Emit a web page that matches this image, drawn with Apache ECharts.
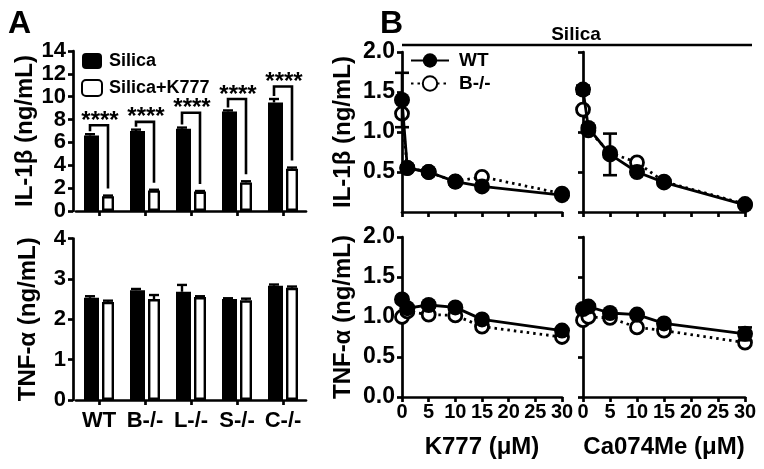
<!DOCTYPE html>
<html>
<head>
<meta charset="utf-8">
<script src="https://cdn.jsdelivr.net/npm/echarts@6/dist/echarts.min.js"></script>
<style>
html,body{margin:0;padding:0;background:#fff;}
#chart{width:764px;height:469px;}
</style>
</head>
<body>
<div id="chart"></div>
<script>
// ---------- DATA ----------
const categories = ['WT', 'B-/-', 'L-/-', 'S-/-', 'C-/-'];
const il1bSilica = [6.6, 7.0, 7.2, 8.7, 9.5];
const il1bSilicaErr = [0.12, 0.12, 0.1, 0.1, 0.3];
const il1bK777 = [1.3, 1.8, 1.7, 2.5, 3.7];
const il1bK777Err = [0.05, 0.06, 0.05, 0.1, 0.1];
const sigBracketTop = [7.5, 7.8, 8.6, 9.8, 10.9];
const sigLabels = ['****', '****', '****', '****', '****'];
const tnfSilica = [2.53, 2.72, 2.68, 2.5, 2.83];
const tnfSilicaErr = [0.04, 0.03, 0.17, 0.02, 0.03];
const tnfK777 = [2.43, 2.5, 2.55, 2.47, 2.78];
const tnfK777Err = [0.03, 0.1, 0.02, 0.04, 0.03];

const doses = [0, 1, 5, 10, 15, 30];
const k777IL1bWT = [1.4, 0.55, 0.5, 0.38, 0.32, 0.21];
const k777IL1bWTErr = [0.34, 0.03, 0.03, 0.03, 0.03, 0.03];
const k777IL1bB = [1.23, 0.55, 0.5, 0.38, 0.44, 0.23];
const ca074IL1bWT = [1.53, 1.05, 0.72, 0.5, 0.37, 0.09];
const ca074IL1bWTErr = [0.05, 0.03, 0.26, 0.03, 0.03, 0.03];
const ca074IL1bB = [1.28, 1.02, 0.74, 0.62, 0.38, 0.1];
const k777TNFWT = [1.22, 1.11, 1.15, 1.12, 0.97, 0.83];
const k777TNFWTErr = [0.03, 0.03, 0.03, 0.03, 0.03, 0.03];
const k777TNFB = [1.0, 1.07, 1.03, 1.02, 0.88, 0.75];
const ca074TNFWT = [1.1, 1.13, 1.05, 1.03, 0.92, 0.79];
const ca074TNFWTErr = [0.03, 0.03, 0.03, 0.03, 0.03, 0.08];
const ca074TNFB = [0.96, 1.0, 0.99, 0.87, 0.83, 0.68];

// ---------- STYLE ----------
const FONT = '"Liberation Sans", Arial, Helvetica, sans-serif';
const BLACK = '#000';
const LW = 2.7;
const BAR_W = 15;
const BAR_OFF = 9;

function axisCommon() {
  return {
    axisLine: { show: true, onZero: false, lineStyle: { color: BLACK, width: LW } },
    axisTick: { show: true, length: 5, lineStyle: { color: BLACK, width: LW } },
    splitLine: { show: false },
    axisLabel: { color: BLACK, fontFamily: FONT, fontWeight: 'bold', fontSize: 22, margin: 7 },
    nameTextStyle: { color: BLACK, fontFamily: FONT, fontWeight: 'bold', fontSize: 24 }
  };
}

const grids = [
  { left: 76, top: 51, width: 230, height: 160 },     // A top
  { left: 76, top: 238.5, width: 230, height: 161.5 },// A bottom
  { left: 402, top: 52, width: 160, height: 160 },    // B top left
  { left: 583, top: 52, width: 162, height: 160 },    // B top right
  { left: 402, top: 237, width: 160, height: 160 },   // B bottom left
  { left: 583, top: 237, width: 162, height: 160 }    // B bottom right
];

const xAxes = [];
const yAxes = [];
// A top
xAxes.push(Object.assign(axisCommon(), {
  gridIndex: 0, type: 'category', data: categories,
  axisTick: { show: true, alignWithLabel: true, length: 5, lineStyle: { color: BLACK, width: LW } },
  axisLabel: { show: false }
}));
yAxes.push(Object.assign(axisCommon(), {
  gridIndex: 0, type: 'value', min: 0, max: 14, interval: 2, offset: 3,
  name: 'IL-1\u03b2 (ng/mL)', nameLocation: 'middle', nameRotate: 90, nameGap: 33
}));
// A bottom
xAxes.push(Object.assign(axisCommon(), {
  gridIndex: 1, type: 'category', data: categories,
  axisTick: { show: true, alignWithLabel: true, length: 5, lineStyle: { color: BLACK, width: LW } },
  axisLabel: { interval: 0, color: BLACK, fontFamily: FONT, fontWeight: 'bold', fontSize: 22, margin: 10 }
}));
yAxes.push(Object.assign(axisCommon(), {
  gridIndex: 1, type: 'value', min: 0, max: 4, interval: 1, offset: 3,
  name: 'TNF-\u03b1 (ng/mL)', nameLocation: 'middle', nameRotate: 90, nameGap: 33
}));
// B panels
const fmt1 = v => v.toFixed(1);
for (let g = 2; g < 6; g++) {
  const bottomRow = g >= 4;
  const leftCol = (g === 2 || g === 4);
  const xa = Object.assign(axisCommon(), {
    gridIndex: g, type: 'value', min: 0, max: 30, interval: 5
  });
  xa.axisLabel = { show: bottomRow, color: BLACK, fontFamily: FONT, fontWeight: 'bold', fontSize: 20, margin: 5 };
  if (bottomRow) {
    xa.name = leftCol ? 'K777 (\u03bcM)' : 'Ca074Me (\u03bcM)';
    xa.nameLocation = 'middle';
    xa.nameGap = 38;
  }
  xAxes.push(xa);
  const ya = Object.assign(axisCommon(), {
    gridIndex: g, type: 'value', min: 0, max: 2, interval: 0.5
  });
  ya.axisLabel = { show: leftCol, showMinLabel: bottomRow, formatter: fmt1, color: BLACK, fontFamily: FONT, fontWeight: 'bold', fontSize: 23, margin: 7 };
  if (leftCol) {
    ya.name = bottomRow ? 'TNF-\u03b1 (ng/mL)' : 'IL-1\u03b2 (ng/mL)';
    ya.nameLocation = 'middle';
    ya.nameRotate = 90;
    ya.nameGap = 47;
  }
  yAxes.push(ya);
}

// ---------- SERIES ----------
const series = [];

function barErrSeries(gridIdx, vals, errs, off) {
  return {
    type: 'custom', xAxisIndex: gridIdx, yAxisIndex: gridIdx, z: 5, silent: true,
    data: vals.map((v, i) => [i, v, errs[i]]),
    renderItem: function (params, api) {
      const i = api.value(0), v = api.value(1), e = api.value(2);
      const p0 = api.coord([i, v]);
      const p1 = api.coord([i, v + e]);
      const x = p0[0] + off;
      return {
        type: 'group',
        children: [
          { type: 'line', shape: { x1: x, y1: p0[1], x2: x, y2: p1[1] }, style: { stroke: BLACK, lineWidth: 2.4 } },
          { type: 'line', shape: { x1: x - 5, y1: p1[1], x2: x + 5, y2: p1[1] }, style: { stroke: BLACK, lineWidth: 2.4 } }
        ]
      };
    }
  };
}

function barPair(gridIdx, a, b) {
  series.push({
    name: 'Silica', type: 'bar', xAxisIndex: gridIdx, yAxisIndex: gridIdx,
    data: a, barWidth: BAR_W, barGap: '20%',
    itemStyle: { color: BLACK, borderColor: BLACK, borderWidth: 0 }
  });
  series.push({
    name: 'Silica+K777', type: 'bar', xAxisIndex: gridIdx, yAxisIndex: gridIdx,
    data: b, barWidth: BAR_W - 3, barGap: '20%',
    itemStyle: { color: '#fff', borderColor: BLACK, borderWidth: 2.4 }
  });
}

barPair(0, il1bSilica, il1bK777);
series.push(barErrSeries(0, il1bSilica, il1bSilicaErr, -BAR_OFF));
series.push(barErrSeries(0, il1bK777, il1bK777Err, BAR_OFF));
// significance brackets
series.push({
  type: 'custom', xAxisIndex: 0, yAxisIndex: 0, z: 6, silent: true,
  data: categories.map((c, i) => [i, sigBracketTop[i], il1bSilica[i] + il1bSilicaErr[i], il1bK777[i] + il1bK777Err[i]]),
  renderItem: function (params, api) {
    const i = api.value(0);
    const top = api.coord([i, api.value(1)]);
    const bl = api.coord([i, api.value(2)]);
    const wh = api.coord([i, api.value(3)]);
    const xl = top[0] - BAR_OFF, xr = top[0] + BAR_OFF;
    return {
      type: 'group',
      children: [
        { type: 'polyline', shape: { points: [[xl, bl[1] - 3], [xl, top[1]], [xr, top[1]], [xr, wh[1] - 7]] },
          style: { stroke: BLACK, lineWidth: 2.6, fill: null } },
        { type: 'text', style: { text: sigLabels[params.dataIndex], x: top[0] + 1, y: top[1] - 16, align: 'center', verticalAlign: 'top',
          font: 'bold 24px ' + FONT, fill: BLACK } }
      ]
    };
  }
});

barPair(1, tnfSilica, tnfK777);
series.push(barErrSeries(1, tnfSilica, tnfSilicaErr, -BAR_OFF));
series.push(barErrSeries(1, tnfK777, tnfK777Err, BAR_OFF));

function pointErrSeries(gridIdx, vals, errs) {
  return {
    type: 'custom', xAxisIndex: gridIdx, yAxisIndex: gridIdx, z: 4, silent: true,
    data: vals.map((v, i) => [doses[i], v, errs[i]]),
    renderItem: function (params, api) {
      const x = api.value(0), v = api.value(1), e = api.value(2);
      const pt = api.coord([x, v + e]);
      const pb = api.coord([x, v - e]);
      return {
        type: 'group',
        children: [
          { type: 'line', shape: { x1: pt[0], y1: pt[1], x2: pb[0], y2: pb[1] }, style: { stroke: BLACK, lineWidth: 2.6 } },
          { type: 'line', shape: { x1: pt[0] - 7, y1: pt[1], x2: pt[0] + 7, y2: pt[1] }, style: { stroke: BLACK, lineWidth: 2.6 } },
          { type: 'line', shape: { x1: pb[0] - 7, y1: pb[1], x2: pb[0] + 7, y2: pb[1] }, style: { stroke: BLACK, lineWidth: 2.6 } }
        ]
      };
    }
  };
}

function linePair(gridIdx, wt, wtErr, b) {
  series.push({
    name: 'B-/-', type: 'line', xAxisIndex: gridIdx, yAxisIndex: gridIdx, z: 3,
    data: doses.map((d, i) => [d, b[i]]),
    symbol: 'circle', symbolSize: 13,
    lineStyle: { color: BLACK, width: 2.8, type: [2.5, 4] },
    itemStyle: { color: '#fff', borderColor: BLACK, borderWidth: 2.8 }
  });
  series.push(pointErrSeries(gridIdx, wt, wtErr));
  series.push({
    name: 'WT', type: 'line', xAxisIndex: gridIdx, yAxisIndex: gridIdx, z: 5,
    data: doses.map((d, i) => [d, wt[i]]),
    symbol: 'circle', symbolSize: 16,
    lineStyle: { color: BLACK, width: 2.8 },
    itemStyle: { color: BLACK, borderColor: BLACK, borderWidth: 0 }
  });
}
linePair(2, k777IL1bWT, k777IL1bWTErr, k777IL1bB);
linePair(3, ca074IL1bWT, ca074IL1bWTErr, ca074IL1bB);
linePair(4, k777TNFWT, k777TNFWTErr, k777TNFB);
linePair(5, ca074TNFWT, ca074TNFWTErr, ca074TNFB);

const option = {
  animation: false,
  backgroundColor: '#fff',
  grid: grids,
  xAxis: xAxes,
  yAxis: yAxes,
  legend: [
    {
      data: ['Silica', 'Silica+K777'], left: 81, top: 52, orient: 'vertical',
      itemWidth: 20, itemHeight: 16, itemGap: 9, padding: 0, selectedMode: false,
      textStyle: { color: BLACK, fontFamily: FONT, fontWeight: 'bold', fontSize: 18, padding: [0, 0, 0, 2] }
    },
    {
      data: ['WT', 'B-/-'], left: 410, top: 51, orient: 'vertical',
      itemWidth: 38, itemHeight: 18, itemGap: 4, padding: 0, selectedMode: false,
      textStyle: { color: BLACK, fontFamily: FONT, fontWeight: 'bold', fontSize: 19, padding: [0, 0, 0, 5] }
    }
  ],
  graphic: [
    { type: 'text', left: 8, top: 8, style: { text: 'A', font: 'bold 32px ' + FONT, fill: BLACK } },
    { type: 'text', left: 380, top: 8, style: { text: 'B', font: 'bold 32px ' + FONT, fill: BLACK } },
    { type: 'line', shape: { x1: 402, y1: 45, x2: 752, y2: 45 }, style: { stroke: BLACK, lineWidth: 2.7 } },
    { type: 'text', x: 576, y: 35, style: { text: 'Silica', font: 'bold 19px ' + FONT, fill: BLACK, align: 'center', verticalAlign: 'middle' } }
  ],
  series: series
};

const chart = echarts.init(document.getElementById('chart'), null, { renderer: 'canvas' });
chart.setOption(option);
</script>
</body>
</html>
